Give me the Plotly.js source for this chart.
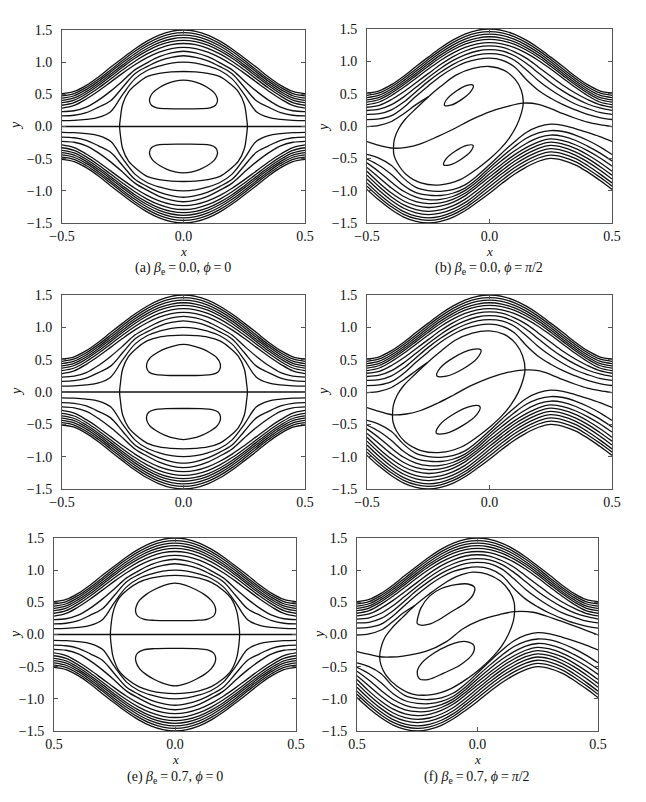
<!DOCTYPE html>
<html><head><meta charset="utf-8">
<script src="https://cdn.plot.ly/plotly-3.0.1.min.js"></script>
<style>html,body{margin:0;padding:0;background:#fff}#chart{width:646px;height:802px}</style>
</head><body><div id="chart"></div>
<script>
// ---------- shared x grid for open streamlines ----------
const xGrid = [-0.5,-0.45,-0.4,-0.35,-0.3,-0.25,-0.2,-0.15,-0.1,-0.05,0,0.05,0.1,0.15,0.2,0.25,0.3,0.35,0.4,0.45,0.5];

// ---------- upper open streamlines (shared by all panels) ----------
const topC1 = [0.51,0.545,0.64,0.77,0.92,1.065,1.205,1.327,1.421,1.48,1.50,1.48,1.421,1.327,1.205,1.065,0.92,0.77,0.64,0.545,0.51];
const topC2 = [0.475,0.511,0.607,0.735,0.88,1.029,1.169,1.289,1.383,1.44,1.46,1.44,1.383,1.289,1.169,1.029,0.88,0.735,0.607,0.511,0.475];
const topC3 = [0.44,0.478,0.574,0.702,0.846,0.994,1.132,1.251,1.343,1.40,1.42,1.40,1.343,1.251,1.132,0.994,0.846,0.702,0.574,0.478,0.44];
const topC4 = [0.405,0.444,0.542,0.669,0.812,0.958,1.096,1.213,1.304,1.36,1.38,1.36,1.304,1.213,1.096,0.958,0.812,0.669,0.542,0.444,0.405];
const topC5 = [0.37,0.41,0.51,0.637,0.779,0.924,1.06,1.175,1.265,1.32,1.34,1.32,1.265,1.175,1.06,0.924,0.779,0.637,0.51,0.41,0.37];
const topC6 = [0.33,0.371,0.472,0.598,0.739,0.881,1.014,1.128,1.216,1.271,1.29,1.271,1.216,1.128,1.014,0.881,0.739,0.598,0.472,0.371,0.33];

// ---------- phi = 0 panels (a, c, e): inner upper and all lower lines ----------
const topA7 = [0.285,0.327,0.428,0.552,0.69,0.83,0.96,1.071,1.157,1.211,1.23,1.211,1.157,1.071,0.96,0.83,0.69,0.552,0.428,0.327,0.285];
const topA8 = [0.23,0.245,0.30,0.41,0.55,0.71,0.88,0.99,1.085,1.145,1.17,1.145,1.085,0.99,0.88,0.71,0.55,0.41,0.30,0.245,0.23];
const topA9 = [0.165,0.175,0.215,0.30,0.40,0.61,0.82,0.93,1.02,1.075,1.10,1.075,1.02,0.93,0.82,0.61,0.40,0.30,0.215,0.175,0.165];
const topA10 = [0.09,0.095,0.11,0.14,0.23,0.50,0.74,0.87,0.94,0.985,1.00,0.985,0.94,0.87,0.74,0.50,0.23,0.14,0.11,0.095,0.09];
const botA1 = [-0.51,-0.545,-0.64,-0.77,-0.92,-1.065,-1.205,-1.327,-1.421,-1.48,-1.50,-1.48,-1.421,-1.327,-1.205,-1.065,-0.92,-0.77,-0.64,-0.545,-0.51];
const botA2 = [-0.475,-0.511,-0.607,-0.735,-0.88,-1.029,-1.169,-1.289,-1.383,-1.44,-1.46,-1.44,-1.383,-1.289,-1.169,-1.029,-0.88,-0.735,-0.607,-0.511,-0.475];
const botA3 = [-0.44,-0.478,-0.574,-0.702,-0.846,-0.994,-1.132,-1.251,-1.343,-1.40,-1.42,-1.40,-1.343,-1.251,-1.132,-0.994,-0.846,-0.702,-0.574,-0.478,-0.44];
const botA4 = [-0.405,-0.444,-0.542,-0.669,-0.812,-0.958,-1.096,-1.213,-1.304,-1.36,-1.38,-1.36,-1.304,-1.213,-1.096,-0.958,-0.812,-0.669,-0.542,-0.444,-0.405];
const botA5 = [-0.37,-0.41,-0.51,-0.637,-0.779,-0.924,-1.06,-1.175,-1.265,-1.32,-1.34,-1.32,-1.265,-1.175,-1.06,-0.924,-0.779,-0.637,-0.51,-0.41,-0.37];
const botA6 = [-0.33,-0.371,-0.472,-0.598,-0.739,-0.881,-1.014,-1.128,-1.216,-1.271,-1.29,-1.271,-1.216,-1.128,-1.014,-0.881,-0.739,-0.598,-0.472,-0.371,-0.33];
const botA7 = [-0.285,-0.327,-0.428,-0.552,-0.69,-0.83,-0.96,-1.071,-1.157,-1.211,-1.23,-1.211,-1.157,-1.071,-0.96,-0.83,-0.69,-0.552,-0.428,-0.327,-0.285];
const botA8 = [-0.23,-0.245,-0.30,-0.41,-0.55,-0.71,-0.88,-0.99,-1.085,-1.145,-1.17,-1.145,-1.085,-0.99,-0.88,-0.71,-0.55,-0.41,-0.30,-0.245,-0.23];
const botA9 = [-0.165,-0.175,-0.215,-0.30,-0.40,-0.61,-0.82,-0.93,-1.02,-1.075,-1.10,-1.075,-1.02,-0.93,-0.82,-0.61,-0.40,-0.30,-0.215,-0.175,-0.165];
const botA10 = [-0.09,-0.095,-0.11,-0.14,-0.23,-0.50,-0.74,-0.87,-0.94,-0.985,-1.00,-0.985,-0.94,-0.87,-0.74,-0.50,-0.23,-0.14,-0.11,-0.095,-0.09];
const midLineX = [-0.5,0.5];
const midLineY = [0,0];

// separatrices (closed ovals)
const sepAx = [-0.263,-0.26,-0.25,-0.226,-0.19,-0.15,-0.1,-0.05,0,0.05,0.1,0.15,0.19,0.226,0.25,0.26,0.263,0.26,0.25,0.226,0.19,0.15,0.1,0.05,0,-0.05,-0.1,-0.15,-0.19,-0.226,-0.25,-0.26,-0.263];
const sepAy = [0,0.12,0.35,0.54,0.67,0.775,0.825,0.848,0.855,0.848,0.825,0.775,0.67,0.54,0.35,0.12,0,-0.12,-0.35,-0.54,-0.67,-0.775,-0.825,-0.848,-0.855,-0.848,-0.825,-0.775,-0.67,-0.54,-0.35,-0.12,0];
const sepCx = [-0.263,-0.26,-0.25,-0.226,-0.19,-0.15,-0.1,-0.05,0,0.05,0.1,0.15,0.19,0.226,0.25,0.26,0.263,0.26,0.25,0.226,0.19,0.15,0.1,0.05,0,-0.05,-0.1,-0.15,-0.19,-0.226,-0.25,-0.26,-0.263];
const sepCy = [0,0.12,0.36,0.55,0.685,0.79,0.85,0.873,0.88,0.873,0.85,0.79,0.685,0.55,0.36,0.12,0,-0.12,-0.36,-0.55,-0.685,-0.79,-0.85,-0.873,-0.88,-0.873,-0.85,-0.79,-0.685,-0.55,-0.36,-0.12,0];
const sepEx = [-0.267,-0.265,-0.255,-0.232,-0.195,-0.15,-0.1,-0.05,0,0.05,0.1,0.15,0.195,0.232,0.255,0.265,0.267,0.265,0.255,0.232,0.195,0.15,0.1,0.05,0,-0.05,-0.1,-0.15,-0.195,-0.232,-0.255,-0.265,-0.267];
const sepEy = [0,0.12,0.36,0.56,0.70,0.81,0.875,0.908,0.918,0.908,0.875,0.81,0.70,0.56,0.36,0.12,0,-0.12,-0.36,-0.56,-0.70,-0.81,-0.875,-0.908,-0.918,-0.908,-0.875,-0.81,-0.70,-0.56,-0.36,-0.12,0];

// islands (closed)
const islAx = [0,0.07,0.11,0.132,0.14,0.137,0.125,0.097,0.068,0.035,0,-0.035,-0.068,-0.097,-0.125,-0.137,-0.14,-0.132,-0.11,-0.07,0];
const islAtopY = [0.275,0.277,0.29,0.33,0.40,0.46,0.53,0.61,0.665,0.705,0.72,0.705,0.665,0.61,0.53,0.46,0.40,0.33,0.29,0.277,0.275];
const islAbotY = [-0.275,-0.277,-0.29,-0.33,-0.40,-0.46,-0.53,-0.61,-0.665,-0.705,-0.72,-0.705,-0.665,-0.61,-0.53,-0.46,-0.40,-0.33,-0.29,-0.277,-0.275];
const islCx = [0,0.075,0.118,0.142,0.152,0.15,0.137,0.107,0.075,0.038,0,-0.038,-0.075,-0.107,-0.137,-0.15,-0.152,-0.142,-0.118,-0.075,0];
const islCtopY = [0.255,0.258,0.272,0.31,0.38,0.45,0.53,0.61,0.67,0.715,0.735,0.715,0.67,0.61,0.53,0.45,0.38,0.31,0.272,0.258,0.255];
const islCbotY = [-0.255,-0.258,-0.272,-0.31,-0.38,-0.45,-0.53,-0.61,-0.67,-0.715,-0.735,-0.715,-0.67,-0.61,-0.53,-0.45,-0.38,-0.31,-0.272,-0.258,-0.255];
const islEx = [0,0.09,0.135,0.16,0.168,0.165,0.15,0.122,0.085,0.045,0,-0.045,-0.085,-0.12,-0.147,-0.16,-0.163,-0.155,-0.13,-0.085,0];
const islEtopY = [0.216,0.22,0.24,0.29,0.36,0.44,0.53,0.62,0.70,0.765,0.80,0.765,0.70,0.62,0.53,0.44,0.36,0.29,0.24,0.22,0.216];
const islEbotY = [-0.216,-0.22,-0.24,-0.29,-0.36,-0.44,-0.53,-0.62,-0.70,-0.765,-0.80,-0.765,-0.70,-0.62,-0.53,-0.44,-0.36,-0.29,-0.24,-0.22,-0.216];

// ---------- phi = pi/2 panels (b, d, f) ----------
const topB7 = [0.29,0.32,0.41,0.53,0.67,0.81,0.95,1.07,1.16,1.22,1.24,1.22,1.15,1.05,0.91,0.77,0.63,0.51,0.41,0.33,0.29];
const topB8 = [0.24,0.26,0.33,0.45,0.60,0.75,0.89,1.01,1.10,1.16,1.18,1.16,1.09,0.97,0.82,0.67,0.54,0.43,0.34,0.28,0.24];
const topB9 = [0.18,0.19,0.25,0.37,0.53,0.69,0.83,0.95,1.04,1.10,1.12,1.10,1.02,0.87,0.70,0.56,0.44,0.34,0.27,0.21,0.18];
const topB10 = [0.10,0.11,0.16,0.29,0.46,0.62,0.77,0.89,0.98,1.03,1.05,1.02,0.92,0.72,0.55,0.43,0.33,0.25,0.18,0.13,0.10];
const botB1 = [-0.98,-1.15,-1.295,-1.408,-1.475,-1.5,-1.476,-1.412,-1.31,-1.18,-1.04,-0.89,-0.75,-0.635,-0.545,-0.50,-0.53,-0.60,-0.71,-0.84,-0.98];
const botB2 = [-0.93,-1.10,-1.25,-1.366,-1.434,-1.46,-1.436,-1.372,-1.27,-1.135,-0.99,-0.84,-0.70,-0.585,-0.495,-0.45,-0.48,-0.55,-0.66,-0.79,-0.93];
const botB3 = [-0.88,-1.055,-1.205,-1.324,-1.394,-1.42,-1.397,-1.333,-1.23,-1.09,-0.94,-0.79,-0.65,-0.535,-0.445,-0.40,-0.43,-0.50,-0.61,-0.74,-0.88];
const botB4 = [-0.82,-0.998,-1.152,-1.272,-1.344,-1.37,-1.348,-1.285,-1.185,-1.045,-0.89,-0.74,-0.60,-0.485,-0.395,-0.35,-0.38,-0.45,-0.555,-0.68,-0.82];
const botB5 = [-0.76,-0.94,-1.097,-1.22,-1.293,-1.32,-1.298,-1.236,-1.135,-0.995,-0.84,-0.69,-0.55,-0.435,-0.345,-0.30,-0.33,-0.40,-0.50,-0.625,-0.76];
const botB6 = [-0.70,-0.88,-1.037,-1.16,-1.233,-1.26,-1.24,-1.18,-1.08,-0.94,-0.79,-0.64,-0.50,-0.385,-0.295,-0.25,-0.28,-0.345,-0.445,-0.565,-0.70];
const botB7 = [-0.64,-0.80,-0.96,-1.09,-1.17,-1.20,-1.19,-1.135,-1.04,-0.90,-0.74,-0.59,-0.45,-0.335,-0.245,-0.20,-0.225,-0.29,-0.38,-0.49,-0.62];
const botB8 = [-0.57,-0.71,-0.87,-1.01,-1.10,-1.14,-1.135,-1.09,-1.00,-0.86,-0.69,-0.535,-0.39,-0.27,-0.18,-0.14,-0.16,-0.22,-0.31,-0.415,-0.54];
const botB9 = [-0.51,-0.61,-0.75,-0.92,-1.03,-1.07,-1.075,-1.04,-0.96,-0.82,-0.645,-0.48,-0.325,-0.19,-0.105,-0.07,-0.085,-0.14,-0.22,-0.32,-0.44];
const botB10 = [-0.44,-0.50,-0.61,-0.81,-0.95,-1.00,-1.01,-0.985,-0.91,-0.77,-0.60,-0.42,-0.25,-0.10,-0.01,0.03,0.01,-0.04,-0.10,-0.165,-0.24];

// cat's-eye loops (closed), S-shaped separatrix, edge branch
const loopBx = [-0.392,-0.388,-0.372,-0.345,-0.30,-0.25,-0.20,-0.135,-0.067,0.0,0.06,0.105,0.13,0.138,0.13,0.11,0.08,0.045,0.0,-0.05,-0.12,-0.20,-0.28,-0.34,-0.375,-0.39,-0.392];
const loopBy = [-0.343,-0.2,-0.05,0.10,0.27,0.45,0.61,0.79,0.89,0.92,0.86,0.72,0.55,0.354,0.20,0.0,-0.19,-0.35,-0.51,-0.66,-0.83,-0.91,-0.88,-0.75,-0.58,-0.45,-0.343];
const sBx = [-0.5,-0.45,-0.392,-0.34,-0.285,-0.21,-0.149,-0.067,0.0,0.07,0.138,0.2,0.25,0.3,0.35,0.4,0.45,0.5];
const sBy = [-0.24,-0.30,-0.343,-0.33,-0.28,-0.16,-0.05,0.11,0.22,0.30,0.354,0.335,0.27,0.19,0.12,0.06,0.02,-0.01];
const edgeBx = [-0.5,-0.45,-0.4,-0.35,-0.3,-0.25];
const edgeBy = [-0.01,0.01,0.07,0.19,0.33,0.45];
const islBtopX = [-0.0665,-0.092,-0.1367,-0.175,-0.1835,-0.158,-0.1133,-0.075,-0.0665];
const islBtopY = [0.630,0.629,0.538,0.410,0.320,0.321,0.412,0.540,0.630];
const islBbotX = [-0.067,-0.093,-0.1387,-0.178,-0.187,-0.161,-0.1153,-0.076,-0.067];
const islBbotY = [-0.30,-0.30,-0.387,-0.512,-0.60,-0.60,-0.513,-0.389,-0.30];

const loopDx = [-0.396,-0.392,-0.377,-0.35,-0.305,-0.255,-0.205,-0.14,-0.07,0.0,0.06,0.108,0.135,0.145,0.137,0.117,0.087,0.05,0.005,-0.045,-0.115,-0.20,-0.28,-0.345,-0.38,-0.394,-0.396];
const loopDy = [-0.353,-0.2,-0.05,0.10,0.27,0.45,0.61,0.80,0.91,0.945,0.89,0.745,0.56,0.342,0.19,-0.01,-0.20,-0.37,-0.53,-0.68,-0.85,-0.935,-0.905,-0.77,-0.60,-0.46,-0.353];
const sDx = [-0.5,-0.45,-0.396,-0.34,-0.284,-0.21,-0.148,-0.08,0.0,0.07,0.145,0.2,0.25,0.3,0.35,0.4,0.45,0.5];
const sDy = [-0.24,-0.30,-0.353,-0.34,-0.29,-0.17,-0.05,0.09,0.22,0.30,0.342,0.33,0.27,0.19,0.12,0.06,0.02,-0.01];
const edgeDx = [-0.5,-0.45,-0.4,-0.35,-0.3,-0.255];
const edgeDy = [-0.01,0.01,0.07,0.19,0.33,0.45];
const islDtopX = [-0.035,-0.074,-0.143,-0.201,-0.215,-0.176,-0.107,-0.049,-0.035];
const islDtopY = [0.65,0.655,0.54,0.372,0.25,0.245,0.36,0.528,0.65];
const islDbotX = [-0.039,-0.078,-0.146,-0.204,-0.217,-0.178,-0.110,-0.052,-0.039];
const islDbotY = [-0.225,-0.221,-0.34,-0.511,-0.635,-0.639,-0.52,-0.349,-0.225];

const loopFx = [-0.406,-0.40,-0.385,-0.355,-0.31,-0.26,-0.2,-0.14,-0.08,-0.02,0.04,0.095,0.135,0.152,0.154,0.148,0.128,0.10,0.065,0.015,-0.04,-0.11,-0.19,-0.27,-0.335,-0.38,-0.40,-0.406];
const loopFy = [-0.346,-0.2,-0.05,0.10,0.27,0.45,0.63,0.79,0.91,0.97,0.94,0.83,0.66,0.50,0.356,0.2,0.0,-0.18,-0.34,-0.52,-0.68,-0.84,-0.935,-0.925,-0.80,-0.63,-0.48,-0.346];
const sFx = [-0.5,-0.45,-0.406,-0.36,-0.309,-0.212,-0.129,-0.06,0.009,0.092,0.154,0.23,0.313,0.41,0.5];
const sFy = [-0.265,-0.31,-0.346,-0.35,-0.335,-0.26,-0.11,0.09,0.22,0.31,0.356,0.346,0.252,0.122,-0.008];
const edgeFx = [-0.5,-0.45,-0.4,-0.355,-0.31,-0.26];
const edgeFy = [-0.01,0.01,0.07,0.19,0.33,0.45];
const islFtopX = [-0.25,-0.245,-0.235,-0.198,-0.15,-0.09,-0.04,-0.012,-0.018,-0.05,-0.11,-0.16,-0.2,-0.235,-0.25];
const islFtopY = [0.17,0.30,0.41,0.60,0.715,0.775,0.785,0.73,0.62,0.49,0.35,0.23,0.16,0.145,0.17];
const islFbotX = [-0.046,-0.015,-0.02,-0.07,-0.14,-0.205,-0.24,-0.25,-0.235,-0.185,-0.12,-0.075,-0.046];
const islFbotY = [-0.112,-0.17,-0.30,-0.47,-0.60,-0.70,-0.69,-0.58,-0.46,-0.30,-0.17,-0.115,-0.112];

// ---------- axis ticks & captions ----------
const xTickVals = [-0.5,0,0.5];
const xTickTextTop = ['\u22120.5','0.0','0.5'];
const xTickTextBottom = ['0.5','0.0','0.5'];
const yTickVals = [-1.5,-1,-0.5,0,0.5,1,1.5];
const EQ = '\u2009=\u2009';
const captions = [
  '(a) <i>β</i><sub>e</sub>'+EQ+'0.0, <i>ϕ</i>'+EQ+'0',
  '(b) <i>β</i><sub>e</sub>'+EQ+'0.0, <i>ϕ</i>'+EQ+'<i>π</i>/2',
  '(e) <i>β</i><sub>e</sub>'+EQ+'0.7, <i>ϕ</i>'+EQ+'0',
  '(f) <i>β</i><sub>e</sub>'+EQ+'0.7, <i>ϕ</i>'+EQ+'<i>π</i>/2'];

// ---------- build ----------
const traces = [];
function add(xs, ys, n){
  const s = n===1 ? '' : String(n);
  traces.push({type:'scatter',mode:'lines',x:xs,y:ys,xaxis:'x'+s,yaxis:'y'+s,
    line:{color:'#111',width:1.3,shape:'spline',smoothing:1},hoverinfo:'skip',showlegend:false});
}
const topShared = [topC1,topC2,topC3,topC4,topC5,topC6];
const linesA = topShared.concat([topA7,topA8,topA9,topA10,botA1,botA2,botA3,botA4,botA5,botA6,botA7,botA8,botA9,botA10]);
const linesB = topShared.concat([topB7,topB8,topB9,topB10,botB1,botB2,botB3,botB4,botB5,botB6,botB7,botB8,botB9,botB10]);

[[1,sepAx,sepAy,islAx,islAtopY,islAbotY],[3,sepCx,sepCy,islCx,islCtopY,islCbotY],[5,sepEx,sepEy,islEx,islEtopY,islEbotY]].forEach(p=>{
  const n=p[0];
  linesA.forEach(ys=>add(xGrid,ys,n));
  add(midLineX,midLineY,n);
  add(p[1],p[2],n);
  add(p[3],p[4],n);
  add(p[3],p[5],n);
});
[[2,loopBx,loopBy,sBx,sBy,edgeBx,edgeBy,islBtopX,islBtopY,islBbotX,islBbotY],
 [4,loopDx,loopDy,sDx,sDy,edgeDx,edgeDy,islDtopX,islDtopY,islDbotX,islDbotY],
 [6,loopFx,loopFy,sFx,sFy,edgeFx,edgeFy,islFtopX,islFtopY,islFbotX,islFbotY]].forEach(p=>{
  const n=p[0];
  linesB.forEach(ys=>add(xGrid,ys,n));
  add(p[1],p[2],n); add(p[3],p[4],n); add(p[5],p[6],n);
  add(p[7],p[8],n); add(p[9],p[10],n);
});

const W=646,H=802;
const FAM='Liberation Serif, Times New Roman, serif';
const tickFont={family:FAM,size:14,color:'#111'};
function xa(l,r,anchor,tt){return {domain:[l/W,r/W],anchor:anchor,range:[-0.5,0.5],tickvals:xTickVals,ticktext:tt,
  showgrid:false,zeroline:false,showline:true,mirror:'ticks',linecolor:'#555',linewidth:1,ticks:'inside',ticklen:4,tickcolor:'#555',
  tickfont:tickFont,ticklabelstandoff:0,fixedrange:true};}
function ya(t,b,anchor){return {domain:[1-b/H,1-t/H],anchor:anchor,range:[-1.5,1.5],tickvals:yTickVals,tickformat:'.1f',
  showgrid:false,zeroline:false,showline:true,mirror:'ticks',linecolor:'#555',linewidth:1,ticks:'inside',ticklen:4,tickcolor:'#555',
  tickfont:tickFont,ticklabelstandoff:6,fixedrange:true};}

const ann=[];
function txt(px,py,t,size,rot,ital){ann.push({xref:'paper',yref:'paper',x:px/W,y:1-py/H,xanchor:'center',yanchor:'middle',
  showarrow:false,text:ital?'<i>'+t+'</i>':t,textangle:rot||0,font:{family:FAM,size:size,color:'#111'}});}
txt(183,251,'x',13,0,true); txt(183,268,captions[0],14);
txt(489,251,'x',13,0,true); txt(489,268,captions[1],14);
txt(175,759,'x',13,0,true); txt(175,777,captions[2],14);
txt(477,759,'x',13,0,true); txt(477,777,captions[3],14);
txt(16,126,'y',14,-90,true); txt(323,128,'y',14,-90,true);
txt(16,392,'y',14,-90,true); txt(323,392,'y',14,-90,true);
txt(15,635,'y',14,-90,true); txt(319,635,'y',14,-90,true);

const layout={width:W,height:H,margin:{l:0,r:0,t:0,b:0},paper_bgcolor:'#fff',plot_bgcolor:'#fff',showlegend:false,
  xaxis:xa(62,305,'y',xTickTextTop), yaxis:ya(30,223,'x'),
  xaxis2:xa(367,612,'y2',xTickTextTop), yaxis2:ya(29,223,'x2'),
  xaxis3:xa(62,305,'y3',xTickTextTop), yaxis3:ya(295,489,'x3'),
  xaxis4:xa(367,612,'y4',xTickTextTop), yaxis4:ya(295,489,'x4'),
  xaxis5:xa(54,296,'y5',xTickTextBottom), yaxis5:ya(538,731,'x5'),
  xaxis6:xa(357,598,'y6',xTickTextBottom), yaxis6:ya(538,731,'x6'),
  annotations:ann};
Plotly.newPlot('chart',traces,layout,{staticPlot:true,displayModeBar:false});
</script></body></html>
